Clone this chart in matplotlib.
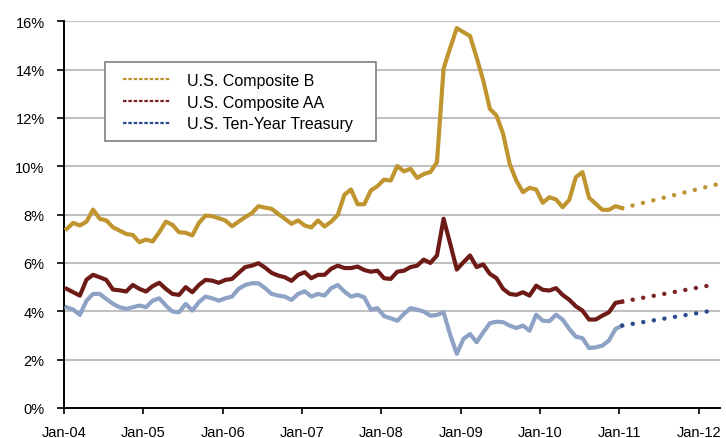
# -*- coding: utf-8 -*-

import numpy as np
import matplotlib
matplotlib.use('Agg')
import matplotlib.pyplot as plt
from matplotlib.lines import Line2D
from matplotlib.patches import Rectangle
from matplotlib import font_manager

# monthly yields, Jan-04 .. Jan-11 (%)
composite_b = [7.41, 7.66, 7.55, 7.71, 8.21, 7.83, 7.76, 7.48, 7.34, 7.20, 7.16, 6.86,
               6.97, 6.89, 7.27, 7.71, 7.58, 7.27, 7.25, 7.14, 7.66, 7.96, 7.94, 7.85,
               7.76, 7.52, 7.71, 7.90, 8.06, 8.35, 8.29, 8.24, 8.03, 7.83, 7.62, 7.76,
               7.55, 7.47, 7.76, 7.51, 7.71, 7.99, 8.82, 9.04, 8.43, 8.43, 9.00, 9.18,
               9.45, 9.41, 10.01, 9.79, 9.90, 9.52, 9.68, 9.76, 10.17, 14.04, 14.90, 15.72,
               15.55, 15.39, 14.50, 13.55, 12.38, 12.10, 11.35, 10.10, 9.41, 8.93, 9.11, 9.04,
               8.49, 8.72, 8.63, 8.31, 8.61, 9.55, 9.76, 8.70, 8.45, 8.20, 8.20, 8.35,
               8.27]
composite_aa = [4.93, 4.79, 4.65, 5.31, 5.51, 5.41, 5.30, 4.90, 4.87, 4.82, 5.09, 4.93,
                4.82, 5.04, 5.18, 4.93, 4.72, 4.68, 5.00, 4.79, 5.09, 5.30, 5.27, 5.18,
                5.30, 5.34, 5.59, 5.83, 5.89, 5.99, 5.81, 5.59, 5.48, 5.41, 5.26, 5.51,
                5.62, 5.37, 5.51, 5.51, 5.76, 5.89, 5.79, 5.79, 5.85, 5.71, 5.64, 5.68,
                5.37, 5.34, 5.64, 5.68, 5.83, 5.89, 6.14, 6.00, 6.31, 7.83, 6.80, 5.73,
                6.03, 6.31, 5.83, 5.94, 5.55, 5.37, 4.93, 4.72, 4.68, 4.79, 4.65, 5.06,
                4.89, 4.86, 4.96, 4.68, 4.48, 4.21, 4.03, 3.66, 3.66, 3.82, 3.96, 4.35,
                4.40]
treasury = [4.17, 4.07, 3.85, 4.44, 4.72, 4.72, 4.51, 4.31, 4.17, 4.10, 4.17, 4.24,
            4.17, 4.44, 4.54, 4.24, 3.99, 3.96, 4.31, 4.03, 4.38, 4.61, 4.54, 4.44,
            4.54, 4.61, 4.93, 5.09, 5.16, 5.16, 4.96, 4.72, 4.65, 4.61, 4.47, 4.72,
            4.83, 4.61, 4.72, 4.65, 4.96, 5.09, 4.82, 4.61, 4.68, 4.58, 4.07, 4.13,
            3.80, 3.71, 3.61, 3.89, 4.13, 4.07, 3.99, 3.82, 3.85, 3.96, 3.03, 2.24,
            2.86, 3.06, 2.72, 3.13, 3.51, 3.57, 3.55, 3.41, 3.31, 3.41, 3.20, 3.86,
            3.61, 3.59, 3.86, 3.66, 3.27, 2.95, 2.89, 2.48, 2.51, 2.58, 2.79, 3.27,
            3.41]

# projections: (month index, value) at start and end
proj_months_b = [84, 99]
proj_b = [8.27, 9.30]
proj_months = [84, 97]
proj_aa = [4.40, 5.06]
proj_tsy = [3.41, 4.00]

labels = ['U.S. Composite B', 'U.S. Composite AA', 'U.S. Ten-Year Treasury']
tick_labels = ['Jan-04', 'Jan-05', 'Jan-06', 'Jan-07', 'Jan-08',
               'Jan-09', 'Jan-10', 'Jan-11', 'Jan-12']

GOLD = '#C0952F'
RED = '#6E1B18'
LIGHT_BLUE = '#8EA2C5'
GOLD_D = '#BF9232'
RED_D = '#7A2422'
BLUE_D = '#2B4A8C'

# font
names = {f.name for f in font_manager.fontManager.ttflist}
fam = 'Liberation Sans Narrow' if 'Liberation Sans Narrow' in names else 'Liberation Sans'
plt.rcParams['font.family'] = [fam, 'DejaVu Sans']

months = np.arange(len(composite_b)) + 0.4

W, H = 726, 439
L, R, B, T = 64, 720, 409, 22.3
fig = plt.figure(figsize=(W / 100, H / 100), dpi=100)
ax = fig.add_axes([L / W, 1 - B / H, (R - L) / W, (B - T) / H])

ax.plot(months, composite_b, color=GOLD, lw=3, solid_joinstyle='round', zorder=3)
ax.plot(months, composite_aa, color=RED, lw=3, solid_joinstyle='round', zorder=3)
ax.plot(months, treasury, color=LIGHT_BLUE, lw=3, solid_joinstyle='round', zorder=3)

dots = (0, (0.01, 2.4))
ax.plot(np.array(proj_months_b) + 0.4, proj_b, color=GOLD_D, lw=3.2,
        linestyle=dots, dash_capstyle='round', zorder=3)
ax.plot(np.array(proj_months) + 0.4, proj_aa, color=RED_D, lw=3.2,
        linestyle=dots, dash_capstyle='round', zorder=3)
ax.plot(np.array(proj_months) + 0.4, proj_tsy, color=BLUE_D, lw=3.2,
        linestyle=dots, dash_capstyle='round', zorder=3)

ax.set_xlim(0, 99.2)
ax.set_ylim(0, 16)
ax.set_xticks(np.arange(0, 97, 12))
ax.set_xticklabels(tick_labels)
ax.set_yticks(np.arange(0, 17, 2))
ax.set_yticklabels([f'{v}%' for v in range(0, 17, 2)])
ax.tick_params(axis='both', labelsize=10.5, colors='black', width=1.2,
               direction='out')
ax.tick_params(axis='x', length=4, pad=8)
ax.tick_params(axis='y', length=5, pad=9)

ax.grid(axis='y', color='#C0C0C0', lw=1.5, zorder=0)
ax.set_axisbelow(True)
for s in ['top', 'right']:
    ax.spines[s].set_visible(False)
for s in ['left', 'bottom']:
    ax.spines[s].set_linewidth(1.4)
    ax.spines[s].set_color('black')

# legend box (drawn separately so it can be wider than its text)
def ax_frac(px, py):
    return (px - L) / (R - L), (B - py) / (B - T)

x0, y0 = ax_frac(105, 142)
x1, y1 = ax_frac(376, 63)
ax.add_patch(Rectangle((x0, y0), x1 - x0, y1 - y0, transform=ax.transAxes,
                       facecolor='white', edgecolor='#7F7F7F', lw=1.2, zorder=4))

handles = [Line2D([], [], color=c, lw=1.6, linestyle=(0, (1.6, 0.8)))
           for c in (GOLD_D, RED_D, BLUE_D)]
lx, ly = ax_frac(123, 74)
leg = ax.legend(handles, labels, loc='upper left', bbox_to_anchor=(lx, ly),
                fontsize=11.5, frameon=False, handlelength=3.0,
                handletextpad=1.0, labelspacing=0.42, borderpad=0,
                borderaxespad=0)
leg.set_zorder(5)

plt.savefig('out.png', dpi=100)
